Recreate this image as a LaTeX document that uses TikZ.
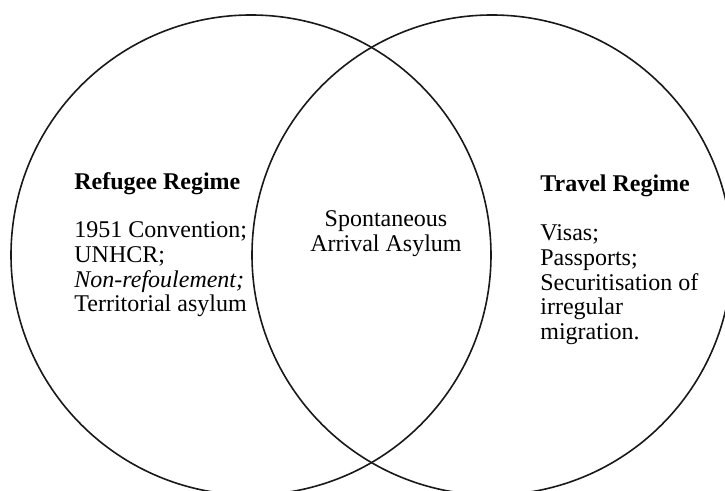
\documentclass[tikz,border=0pt]{standalone}
\usepackage{fontspec}
\setmainfont{Liberation Serif}

\begin{document}
\begin{tikzpicture}[%
			x=0.5pt,
			y=-0.5pt,
			font=\fontsize{12}{12.3}\selectfont,
			regime/.style={%
				circle,
				minimum size=240pt,
				line width=0.8pt,
				draw=black!90
			},
			entry/.style={%
				inner sep=0pt,
				anchor=base west
			}
			]
			\useasboundingbox (0,0) rectangle (725,491);
			\clip (0,0) rectangle (725,491);
			\node[regime] (refugee) at (251,255) {};
			\node[regime] (travel)  at (492,255) {};
			
			\node[entry] (refugeetitle) at (74,190) {\textbf{Refugee Regime}};
			\node[entry] (refugeelist)  at (74,238) {\begin{tabular}[t]{@{}l@{}}
				1951 Convention;\\
				UNHCR;\\
				\textit{Non-refoulement;}\\
				Territorial asylum
				\end{tabular}};
			
			\node[entry, anchor=base] (asylum) at (386,227) {\begin{tabular}[t]{@{}c@{}}
				Spontaneous\\
				Arrival Asylum
				\end{tabular}};
			
			\node[entry] (traveltitle) at (540,192) {\textbf{Travel Regime}};
			\node[entry] (travellist)  at (540,241) {\begin{tabular}[t]{@{}l@{}}
				Visas;\\
				Passports;\\
				Securitisation of\\
				irregular\\
				migration.
				\end{tabular}};
			\end{tikzpicture}
\end{document}
